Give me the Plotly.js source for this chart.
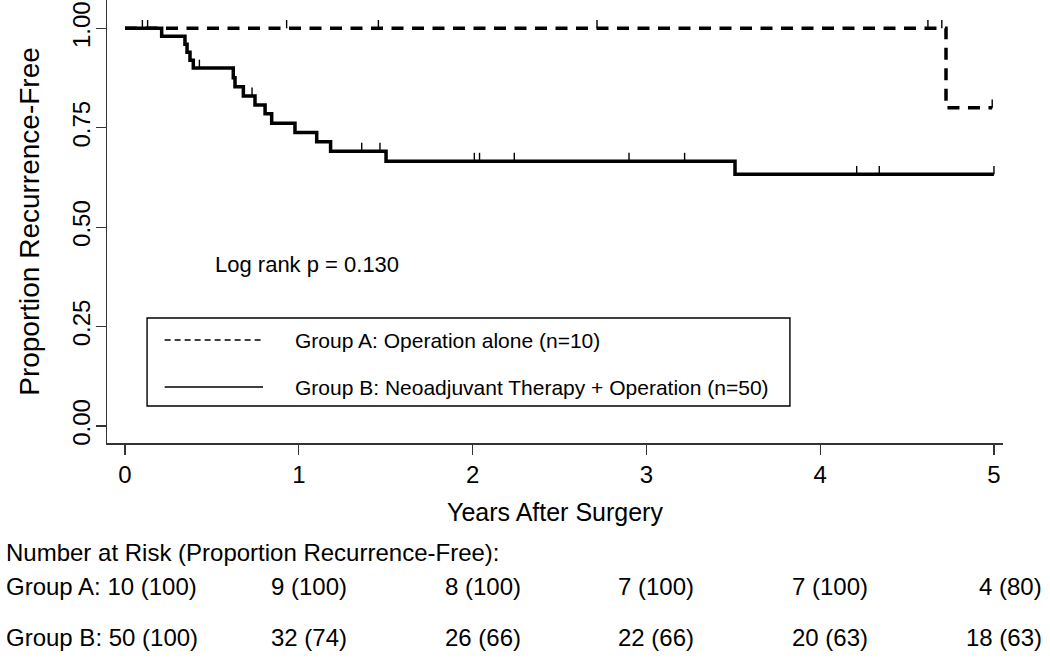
<!DOCTYPE html>
<html><head><meta charset="utf-8">
<script src="https://cdn.plot.ly/plotly-3.0.1.min.js"></script>
<style>html,body{margin:0;padding:0;background:#fff}#chart{width:1050px;height:658px}</style>
</head><body><div id="chart"></div>
<script>
// ---- data ----
const timesA = [0, 4.724, 4.99];
const survA  = [1.0, 0.80, 0.80];
const censorA = [0.10, 0.93, 1.458, 2.716, 4.62, 4.70, 4.99];

const timesB = [0, 0.211, 0.345, 0.357, 0.374, 0.393, 0.623, 0.633, 0.681, 0.748, 0.806, 0.844, 0.978, 1.103, 1.183, 1.502, 3.51, 5.0];
const survB  = [1.0, 0.98, 0.96, 0.94, 0.92, 0.90, 0.876, 0.853, 0.83, 0.807, 0.785, 0.761, 0.738, 0.715, 0.691, 0.666, 0.633, 0.633];
const censorB = [0.13, 0.428, 0.731, 1.362, 1.467, 2.01, 2.04, 2.24, 2.90, 3.22, 4.21, 4.34, 5.0];

const xTicks = [0, 1, 2, 3, 4, 5];
const yTicks = [0, 0.25, 0.5, 0.75, 1.0];
const riskTimes = [0, 1, 2, 3, 4, 5];
const riskA = ["10 (100)", "9 (100)", "8 (100)", "7 (100)", "7 (100)", "4 (80)"];
const riskB = ["50 (100)", "32 (74)", "26 (66)", "22 (66)", "20 (63)", "18 (63)"];
const groupNames = ["Group A", "Group B"];
const legendLabels = ["Group A: Operation alone (n=10)", "Group B: Neoadjuvant Therapy + Operation (n=50)"];
const logRankText = "Log rank p = 0.130";
const riskHeader = "Number at Risk (Proportion Recurrence-Free):";

// ---- helpers ----
const FONT = "Liberation Sans, Arial, Helvetica, sans-serif";
const xRange = [-0.1036, 5.052];
const yRange = [-0.0427, 1.0712];
function survAt(times, surv, t) {
  let s = surv[0];
  for (let i = 0; i < times.length; i++) if (times[i] <= t) s = surv[i];
  return s;
}
function censorSegs(cens, times, surv) {
  const xs = [], ys = [];
  cens.forEach(c => { const s = survAt(times, surv, c); xs.push(c, c, null); ys.push(s, s + 0.021, null); });
  return {xs, ys};
}
const cA = censorSegs(censorA, timesA, survA);
const cB = censorSegs(censorB, timesB, survB);

const traces = [
  {x: timesB, y: survB, mode: 'lines', line: {shape: 'hv', color: '#000', width: 3.5}, name: groupNames[1], hoverinfo: 'skip'},
  {x: timesA, y: survA, mode: 'lines', line: {shape: 'hv', color: '#000', width: 3.5, dash: '12px,8.5px'}, name: groupNames[0], hoverinfo: 'skip'},
  {x: cB.xs, y: cB.ys, mode: 'lines', line: {color: '#000', width: 1.4}, connectgaps: false, hoverinfo: 'skip'},
  {x: cA.xs, y: cA.ys, mode: 'lines', line: {color: '#000', width: 1.4}, connectgaps: false, hoverinfo: 'skip'}
];

const pxW = 896; // plot width in px
const colOffset = 50 / pxW;
function tPaper(t) { return (t - xRange[0]) / (xRange[1] - xRange[0]); }

const annotations = [
  {text: logRankText, xref: 'x', yref: 'y', x: 0.506, y: 0.405, xanchor: 'left', yanchor: 'middle', showarrow: false, font: {size: 22, family: FONT, color: '#000'}},
  {text: legendLabels[0], xref: 'x', yref: 'y', x: 0.967, y: 0.216, xanchor: 'left', yanchor: 'middle', showarrow: false, font: {size: 21, family: FONT, color: '#000'}},
  {text: legendLabels[1], xref: 'x', yref: 'y', x: 0.967, y: 0.098, xanchor: 'left', yanchor: 'middle', showarrow: false, font: {size: 21, family: FONT, color: '#000'}},
  {text: riskHeader, xref: 'paper', yref: 'paper', x: -0.115, y: -0.2483, xanchor: 'left', yanchor: 'middle', showarrow: false, font: {size: 24, family: FONT, color: '#000'}}
];
[[riskA, -0.325, groupNames[0]], [riskB, -0.438, groupNames[1]]].forEach(([vals, yy, g]) => {
  vals.forEach((v, i) => {
    if (i === 0) {
      annotations.push({text: g + ': ' + v, xref: 'paper', yref: 'paper', x: -0.115, y: yy, xanchor: 'left', yanchor: 'middle', showarrow: false, font: {size: 24, family: FONT, color: '#000'}});
    } else {
      annotations.push({text: v, xref: 'paper', yref: 'paper', x: tPaper(riskTimes[i]) + colOffset, y: yy, xanchor: 'right', yanchor: 'middle', showarrow: false, font: {size: 24, family: FONT, color: '#000'}});
    }
  });
});

const shapes = [
  {type: 'rect', xref: 'x', yref: 'y', x0: 0.127, x1: 3.826, y0: 0.0503, y1: 0.2716, line: {color: '#000', width: 1.4}, fillcolor: 'rgba(0,0,0,0)'},
  {type: 'line', xref: 'x', yref: 'y', x0: 0.228, x1: 0.794, y0: 0.216, y1: 0.216, line: {color: '#000', width: 1.5, dash: '6px,4px'}},
  {type: 'line', xref: 'x', yref: 'y', x0: 0.228, x1: 0.794, y0: 0.098, y1: 0.098, line: {color: '#000', width: 1.5}}
];

const layout = {
  width: 1050, height: 658,
  margin: {l: 107, r: 47, t: 0, b: 215, pad: 0},
  paper_bgcolor: '#fff', plot_bgcolor: '#fff',
  showlegend: false,
  font: {family: FONT, color: '#000'},
  xaxis: {
    range: xRange, tickvals: xTicks, ticktext: xTicks.map(String),
    showgrid: false, zeroline: false, showline: true, linecolor: '#333', linewidth: 1.5,
    ticks: 'outside', ticklen: 10, tickwidth: 1.3, tickcolor: '#333',
    tickfont: {size: 24, family: FONT, color: '#000'},
    title: {text: 'Years After Surgery', font: {size: 25, family: FONT, color: '#000'}, standoff: 16},
    automargin: false, fixedrange: true
  },
  yaxis: {
    range: yRange, tickvals: yTicks, ticktext: yTicks.map(v => v.toFixed(2)),
    showgrid: false, zeroline: false, showline: true, linecolor: '#333', linewidth: 1.5,
    ticks: 'outside', ticklen: 10, tickwidth: 1.3, tickcolor: '#333', tickangle: -90,
    ticklabelstandoff: -4,
    tickfont: {size: 24, family: FONT, color: '#000'},
    title: {text: 'Proportion Recurrence-Free', font: {size: 28, family: FONT, color: '#000'}, standoff: 20},
    automargin: false, fixedrange: true
  },
  annotations, shapes
};

Plotly.newPlot('chart', traces, layout, {staticPlot: true, displayModeBar: false});
</script>
</body></html>
